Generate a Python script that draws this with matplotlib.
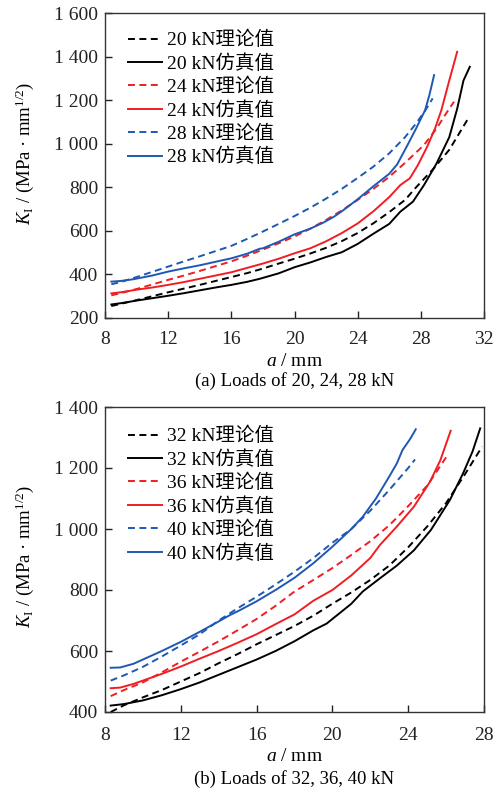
import matplotlib
matplotlib.use("Agg")
import matplotlib.pyplot as plt
from matplotlib.font_manager import FontProperties

plt.rcParams['font.family'] = ['Liberation Serif', 'Noto Sans CJK SC']
plt.rcParams['mathtext.fontset'] = 'custom'
plt.rcParams['mathtext.rm'] = 'Liberation Serif'
plt.rcParams['mathtext.it'] = 'Liberation Serif:italic'
plt.rcParams['lines.scale_dashes'] = False

# ---------------- data: panel (a) ----------------
a_20_theory_x = [8.4, 9, 10, 11, 12, 13, 14, 15, 16, 17, 18, 19, 20, 21, 22, 23, 24, 25, 26, 27, 27.7, 28.8, 29.8, 31.0]
a_20_theory_y = [255, 265, 282, 300, 318, 335, 352, 370, 388, 406, 427, 450, 472, 496, 522, 553, 590, 635, 686, 742, 800, 885, 972, 1116]
a_20_sim_x = [8.4, 9, 10, 11, 12, 13, 14, 15, 16, 17, 17.8, 19, 20, 21, 22, 23, 24, 25, 26, 26.7, 27.5, 28.2, 29, 29.8, 30.3, 30.7, 31.1]
a_20_sim_y = [262, 268, 280, 291, 302, 314, 327, 340, 352, 366, 380, 405, 433, 455, 480, 502, 540, 587, 632, 688, 734, 810, 910, 1030, 1160, 1290, 1353]
a_24_theory_x = [8.4, 9, 10, 11, 12, 13, 14, 15, 16, 17, 18, 19, 20, 21, 22, 23, 24, 25, 26, 27, 28.2, 29, 29.6, 30.1]
a_24_theory_y = [304, 314, 333, 354, 375, 395, 416, 438, 460, 486, 514, 543, 574, 610, 650, 694, 742, 793, 848, 912, 994, 1070, 1139, 1193]
a_24_sim_x = [8.4, 9, 10, 11, 12, 13, 14, 15, 16, 17, 18, 19, 20, 21, 22, 23, 24, 25, 26, 26.7, 27.3, 27.8, 28.4, 28.9, 29.3, 29.8, 30.3]
a_24_sim_y = [313, 318, 330, 340, 352, 365, 380, 395, 410, 430, 450, 472, 497, 520, 552, 590, 634, 690, 755, 810, 841, 900, 986, 1070, 1154, 1290, 1422]
a_28_theory_x = [8.4, 9, 10, 11, 12, 13, 14, 15, 16, 17, 18, 19, 20, 21, 22, 23, 24, 25, 26, 27, 27.7, 28.3, 28.75]
a_28_theory_y = [355, 365, 388, 412, 436, 460, 483, 507, 531, 563, 597, 632, 668, 706, 748, 793, 843, 895, 956, 1030, 1093, 1155, 1208]
a_28_sim_x = [8.4, 9, 9.8, 11, 12, 13, 14, 15, 16, 17, 17.8, 18, 19, 20, 21, 21.8, 22.5, 23, 24, 25, 26, 26.5, 27.1, 27.7, 28.27, 28.54, 28.84]
a_28_sim_y = [367, 370, 378, 395, 413, 428, 442, 458, 474, 495, 518, 520, 550, 584, 610, 637, 665, 690, 745, 805, 862, 905, 986, 1070, 1154, 1223, 1315]

# ---------------- data: panel (b) ----------------
b_32_theory_x = [8.3, 9, 10, 11, 12, 13, 14, 15, 16, 17, 18, 19, 20, 21, 22, 23, 24, 25, 26, 27, 27.9]
b_32_theory_y = [400, 422, 448, 472, 500, 528, 560, 590, 622, 652, 682, 716, 755, 792, 833, 880, 940, 1008, 1085, 1180, 1270]
b_32_sim_x = [8.3, 9, 10, 11, 12, 13, 14, 15, 16, 17, 18, 19, 19.7, 20, 21, 21.6, 22.5, 23.4, 24.3, 25.2, 26.2, 26.9, 27.4, 27.8]
b_32_sim_y = [421, 426, 438, 455, 475, 497, 522, 547, 572, 600, 632, 668, 690, 705, 755, 795, 838, 880, 930, 997, 1095, 1183, 1255, 1330]
b_36_theory_x = [8.3, 9, 10, 11, 12, 13, 14, 15, 16, 17, 18, 19, 20, 21, 22, 23, 24, 25, 26]
b_36_theory_y = [452, 472, 497, 530, 565, 598, 632, 668, 705, 748, 795, 833, 872, 915, 960, 1012, 1075, 1142, 1235]
b_36_sim_x = [8.3, 8.8, 9.5, 10, 11, 12, 13, 14, 15, 16, 17, 18, 19, 20, 21, 22, 22.5, 23.4, 24.3, 25.15, 25.7, 26.24]
b_36_sim_y = [478, 480, 492, 503, 525, 549, 575, 600, 627, 655, 688, 720, 765, 800, 848, 905, 947, 1008, 1073, 1155, 1226, 1322]
b_40_theory_x = [8.3, 9, 10, 11, 12, 13, 14, 15, 16, 17, 18, 19, 20, 21, 22, 23, 24, 24.36]
b_40_theory_y = [503, 520, 548, 582, 618, 655, 700, 740, 778, 818, 860, 905, 955, 1000, 1060, 1128, 1200, 1228]
b_40_sim_x = [8.3, 8.8, 9.5, 10, 11, 12, 13, 14, 14.6, 15, 16, 17, 18, 19, 20, 21, 21.6, 22.3, 23.0, 23.4, 23.7, 24.1, 24.4]
b_40_sim_y = [545, 546, 558, 572, 600, 630, 663, 697, 718, 730, 763, 800, 840, 888, 942, 1000, 1040, 1100, 1172, 1215, 1259, 1295, 1327]

a_loads = ['20', '24', '28']
b_loads = ['32', '36', '40']
a_xticks = [8, 12, 16, 20, 24, 28, 32]
a_yticks = [200, 400, 600, 800, 1000, 1200, 1400, 1600]
b_xticks = [8, 12, 16, 20, 24, 28]
b_yticks = [400, 600, 800, 1000, 1200, 1400]
caption_a = '(a) Loads of 20, 24, 28 kN'
caption_b = '(b) Loads of 32, 36, 40 kN'

colors = ['#000000', '#f01e23', '#1f58b4']
fp = FontProperties(family=['Liberation Serif', 'Noto Sans CJK SC'], size=14)


def fmt(v):
    s = f"{v:d}"
    if v >= 1000:
        s = s[:-3] + ' ' + s[-3:]
    return s


fig = plt.figure(figsize=(5.01, 7.91), dpi=100)
ax1 = fig.add_axes([105 / 501, 1 - 318 / 791, 379 / 501, 305 / 791])
ax2 = fig.add_axes([105 / 501, 1 - 712 / 791, 379 / 501, 305 / 791])

panels = [
    (ax1, a_loads, [(a_20_theory_x, a_20_theory_y, a_20_sim_x, a_20_sim_y),
                    (a_24_theory_x, a_24_theory_y, a_24_sim_x, a_24_sim_y),
                    (a_28_theory_x, a_28_theory_y, a_28_sim_x, a_28_sim_y)],
     a_xticks, a_yticks, caption_a,
     dict(xpad=9, xlab_y=-0.157, cap_y=-0.223, ylab_y=0.541, leg_y=0.941)),
    (ax2, b_loads, [(b_32_theory_x, b_32_theory_y, b_32_sim_x, b_32_sim_y),
                    (b_36_theory_x, b_36_theory_y, b_36_sim_x, b_36_sim_y),
                    (b_40_theory_x, b_40_theory_y, b_40_sim_x, b_40_sim_y)],
     b_xticks, b_yticks, caption_b,
     dict(xpad=11, xlab_y=-0.161, cap_y=-0.236, ylab_y=0.511, leg_y=0.934)),
]

for ax, loads, series, xt, yt, cap, pos in panels:
    for load, (tx, ty, sx, sy), c in zip(loads, series, colors):
        ax.plot(tx, ty, color=c, lw=1.4, dashes=(5, 3.2), label=f'{load} kN理论值')
        ax.plot(sx, sy, color=c, lw=1.4, label=f'{load} kN仿真值')
    ax.set_xlim(xt[0], xt[-1])
    ax.set_ylim(yt[0], yt[-1])
    ax.set_xticks(xt)
    ax.set_yticks(yt)
    ax.set_xticklabels([str(v) for v in xt])
    ax.set_yticklabels([fmt(v) for v in yt])
    ax.tick_params(direction='in', length=5, width=1, labelsize=14, colors='#222222',
                   top=False, right=False)
    ax.tick_params(axis='x', pad=pos['xpad'])
    ax.tick_params(axis='y', pad=5)
    for sp in ax.spines.values():
        sp.set_color('#333333')
        sp.set_linewidth(1.0)
    ax.text(0.5, pos['xlab_y'], r'$a$ / mm', transform=ax.transAxes, ha='center',
            va='baseline', fontsize=14)
    ax.set_ylabel(r'$K_\mathrm{I}$ / (MPa · mm$^{1/2}$)', fontsize=13.5)
    ax.yaxis.set_label_coords(-0.182, pos['ylab_y'])
    ax.text(0.5, pos['cap_y'], cap, transform=ax.transAxes, ha='center',
            va='baseline', fontsize=13.5)
    ax.legend(loc='upper left', bbox_to_anchor=(0.06, pos['leg_y']), frameon=False,
              prop=fp, handlelength=1.75, handletextpad=0.25, labelspacing=0.25,
              borderaxespad=0.0, borderpad=0.0)

fig.savefig('out.png', dpi=100)
